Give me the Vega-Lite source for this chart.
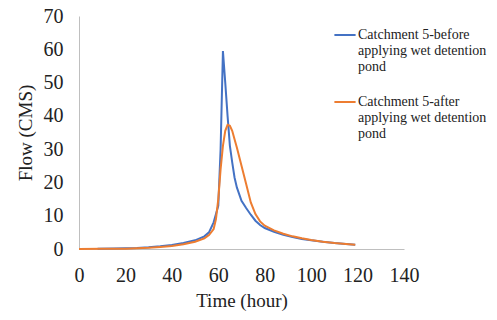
{
  "$schema": "https://vega.github.io/schema/vega-lite/v6.json",
  "width": 325,
  "height": 233,
  "autosize": "none",
  "padding": {"left": 79, "top": 16, "right": 93, "bottom": 71},
  "background": "white",
  "config": {
    "view": {"stroke": null},
    "font": "Liberation Serif",
    "axis": {"grid": false, "ticks": false, "labelFlush": false, "domainColor": "#bfbfbf", "domainWidth": 1, "labelFont": "Liberation Serif", "titleFont": "Liberation Serif", "labelColor": "#222222", "titleColor": "#222222", "titleFontWeight": "normal", "labelFontSize": 20, "titleFontSize": 19}
  },
  "data": {
    "values": [
      {"hour": 8, "flow": 0.1, "series": "before"},
      {"hour": 15, "flow": 0.15, "series": "before"},
      {"hour": 20, "flow": 0.2, "series": "before"},
      {"hour": 25, "flow": 0.3, "series": "before"},
      {"hour": 30, "flow": 0.5, "series": "before"},
      {"hour": 35, "flow": 0.8, "series": "before"},
      {"hour": 40, "flow": 1.2, "series": "before"},
      {"hour": 45, "flow": 1.8, "series": "before"},
      {"hour": 50, "flow": 2.6, "series": "before"},
      {"hour": 54, "flow": 3.8, "series": "before"},
      {"hour": 56, "flow": 5, "series": "before"},
      {"hour": 58, "flow": 8, "series": "before"},
      {"hour": 59, "flow": 10.5, "series": "before"},
      {"hour": 60, "flow": 13, "series": "before"},
      {"hour": 61, "flow": 30, "series": "before"},
      {"hour": 62, "flow": 59.5, "series": "before"},
      {"hour": 63, "flow": 50, "series": "before"},
      {"hour": 64, "flow": 40, "series": "before"},
      {"hour": 65, "flow": 31, "series": "before"},
      {"hour": 66, "flow": 26, "series": "before"},
      {"hour": 67, "flow": 21.5, "series": "before"},
      {"hour": 68, "flow": 18.5, "series": "before"},
      {"hour": 70, "flow": 14.5, "series": "before"},
      {"hour": 72, "flow": 12.3, "series": "before"},
      {"hour": 74, "flow": 10.3, "series": "before"},
      {"hour": 76, "flow": 8.5, "series": "before"},
      {"hour": 78, "flow": 7.2, "series": "before"},
      {"hour": 80, "flow": 6.3, "series": "before"},
      {"hour": 84, "flow": 5.2, "series": "before"},
      {"hour": 88, "flow": 4.3, "series": "before"},
      {"hour": 92, "flow": 3.6, "series": "before"},
      {"hour": 96, "flow": 3.0, "series": "before"},
      {"hour": 100, "flow": 2.6, "series": "before"},
      {"hour": 105, "flow": 2.2, "series": "before"},
      {"hour": 110, "flow": 1.8, "series": "before"},
      {"hour": 115, "flow": 1.5, "series": "before"},
      {"hour": 119, "flow": 1.3, "series": "before"},
      {"hour": 0, "flow": 0, "series": "after"},
      {"hour": 10, "flow": 0.05, "series": "after"},
      {"hour": 20, "flow": 0.1, "series": "after"},
      {"hour": 25, "flow": 0.2, "series": "after"},
      {"hour": 30, "flow": 0.35, "series": "after"},
      {"hour": 35, "flow": 0.6, "series": "after"},
      {"hour": 40, "flow": 0.9, "series": "after"},
      {"hour": 45, "flow": 1.4, "series": "after"},
      {"hour": 50, "flow": 2.2, "series": "after"},
      {"hour": 54, "flow": 3.2, "series": "after"},
      {"hour": 56, "flow": 4.2, "series": "after"},
      {"hour": 58, "flow": 6, "series": "after"},
      {"hour": 59, "flow": 9, "series": "after"},
      {"hour": 60, "flow": 15, "series": "after"},
      {"hour": 61, "flow": 24, "series": "after"},
      {"hour": 62, "flow": 31, "series": "after"},
      {"hour": 63, "flow": 35.5, "series": "after"},
      {"hour": 64, "flow": 37.3, "series": "after"},
      {"hour": 65, "flow": 37, "series": "after"},
      {"hour": 66, "flow": 35.5, "series": "after"},
      {"hour": 67, "flow": 33, "series": "after"},
      {"hour": 68, "flow": 30.5, "series": "after"},
      {"hour": 70, "flow": 25, "series": "after"},
      {"hour": 72, "flow": 19.5, "series": "after"},
      {"hour": 74, "flow": 14, "series": "after"},
      {"hour": 76, "flow": 10.5, "series": "after"},
      {"hour": 78, "flow": 8.3, "series": "after"},
      {"hour": 80, "flow": 7, "series": "after"},
      {"hour": 84, "flow": 5.6, "series": "after"},
      {"hour": 88, "flow": 4.6, "series": "after"},
      {"hour": 92, "flow": 3.8, "series": "after"},
      {"hour": 96, "flow": 3.2, "series": "after"},
      {"hour": 100, "flow": 2.7, "series": "after"},
      {"hour": 105, "flow": 2.2, "series": "after"},
      {"hour": 110, "flow": 1.8, "series": "after"},
      {"hour": 115, "flow": 1.5, "series": "after"},
      {"hour": 119, "flow": 1.3, "series": "after"}
    ]
  },
  "mark": {"type": "line", "strokeWidth": 2},
  "encoding": {
    "x": {"field": "hour", "type": "quantitative", "scale": {"domain": [0, 140], "nice": false}, "axis": {"values": [0, 20, 40, 60, 80, 100, 120, 140], "labelPadding": 16, "title": "Time (hour)", "titlePadding": 6}},
    "y": {"field": "flow", "type": "quantitative", "scale": {"domain": [0, 70], "nice": false}, "axis": {"values": [0, 10, 20, 30, 40, 50, 60, 70], "labelPadding": 16, "title": "Flow (CMS)", "titlePadding": 8}},
    "color": {
      "field": "series", "type": "nominal",
      "scale": {"domain": ["before", "after"], "range": ["#4472C4", "#ED7D31"]},
      "legend": {
        "orient": "none", "legendX": 254, "legendY": 7, "title": null,
        "symbolType": "stroke", "symbolStrokeWidth": 2, "symbolSize": 450,
        "labelFont": "Liberation Serif", "labelFontSize": 14, "labelColor": "#222222",
        "labelBaseline": "middle", "labelOffset": 1, "rowPadding": 16,
        "labelExpr": "datum.label == 'before' ? ['Catchment 5-before', 'applying wet detention', 'pond'] : ['Catchment 5-after', 'applying wet detention', 'pond']"
      }
    }
  }
}
